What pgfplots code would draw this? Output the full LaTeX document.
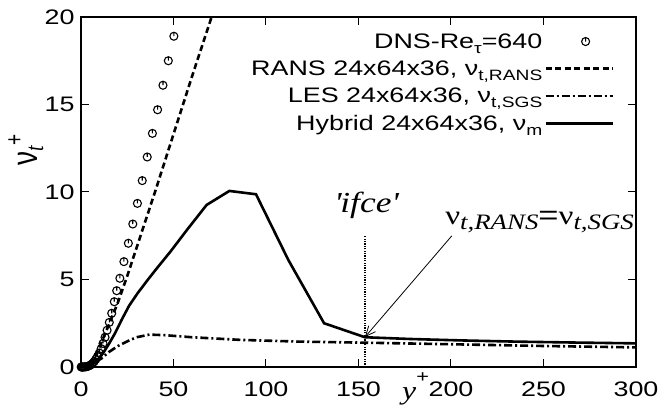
\documentclass[border=0pt]{standalone}
\usepackage{fontspec}
\setmainfont{Liberation Sans}[FakeStretch=1.28]
\newfontfamily\tnr{Liberation Serif}[FakeStretch=1.22]
\newfontfamily\arial{Liberation Sans}[FakeStretch=1.28]
\newfontfamily\arialN{Liberation Sans}
\newfontfamily\tnrN{Liberation Serif}
\usepackage{pgfplots}
\pgfplotsset{compat=1.18}
\usetikzlibrary{arrows.meta}
\pgfdeclareplotmark{circtick}{%
  \pgfpathcircle{\pgfpointorigin}{\pgfplotmarksize}%
  \pgfpathmoveto{\pgfpointorigin}%
  \pgfpathlineto{\pgfqpoint{0pt}{\pgfplotmarksize}}%
  \pgfusepathqstroke}
\newcommand{\lsub}[1]{\raisebox{-5pt}{\fontsize{15}{15}\selectfont #1}}
\pgfplotsset{
  marklegend/.style={legend image code/.code={\draw[##1] plot coordinates {(40pt,0pt)};}},
  linelegend/.style={legend image code/.code={\draw[##1] (0pt,0pt) -- (67pt,0pt);}},
}

\begin{document}
\begin{tikzpicture}
\path[use as bounding box] (-81pt,-44pt) rectangle (581pt,367pt);
\begin{axis}[
  at={(0,0)}, anchor=south west, scale only axis,
  width=555pt, height=350pt,
  xmin=0, xmax=300, ymin=0, ymax=20,
  xtick={0,50,...,300}, ytick={0,5,...,20},
  clip=false,
  axis line style={line width=1.2pt},
  major tick style={line width=1pt, black},
  major tick length=8pt,
  tick align=inside,
  ticklabel style={font=\fontsize{21}{24}\selectfont},
  xticklabel style={yshift=-11pt},
  yticklabel style={xshift=-3pt},
  /pgf/number format/assume math mode=true,
  legend plot pos=right,
  legend cell align=right,
  legend style={draw=none, fill=none, at={(rel axis cs:0.966,0.965)}, anchor=north east,
    font=\fontsize{21}{24}\selectfont, row sep=7pt,
    /tikz/every even column/.style={column sep=8pt}},
  linelegend,
]
\addplot[only marks, mark=circtick, mark size=4pt, line width=1.1pt, marklegend]
coordinates {
(0.1,0)(0.35,0)(0.65,0)(1.0,0.001)(1.4,0.002)(1.85,0.004)(2.35,0.009)(2.9,0.017)
(3.5,0.03)(4.1,0.055)(4.8,0.09)(5.5,0.14)(6.3,0.21)(7.1,0.31)(8.0,0.44)(8.9,0.6)
(9.9,0.8)(10.9,1.05)(11.9,1.35)(13.0,1.7)(14.1,2.1)(15.3,2.55)(16.6,3.07)(18.0,3.73)
(19.3,4.36)(21.0,5.07)(23.2,6.02)(25.6,7.07)(28.0,8.17)(30.5,9.35)(33.1,10.65)
(35.8,12.0)(38.6,13.35)(41.4,14.7)(44.3,16.1)(47.2,17.5)(50.2,18.9)
};
\addlegendentry{DNS-Re\lsub{τ}=640}
\addplot[line width=2.6pt, dash pattern=on 6pt off 3.5pt]
coordinates {
(0,0)(2,0.02)(4,0.12)(6,0.35)(8,0.7)(10,1.15)(12,1.65)(15,2.4)(20,3.7)(25,5.2)
(30,6.8)(40,10.0)(50,13.3)(60,16.6)(70.6,20)
};
\addlegendentry{RANS 24x64x36, ν\lsub{t,RANS}}
\addplot[line width=2.6pt, dash pattern=on 8pt off 3pt on 2pt off 3pt]
coordinates {
(0,0)(3,0.03)(6,0.15)(9,0.35)(11.2,0.5)(15,0.85)(20,1.2)(24.7,1.45)(30,1.7)
(37,1.85)(45,1.82)(60,1.7)(86,1.55)(118,1.45)(153,1.39)(200,1.3)(250,1.2)(300,1.12)
};
\addlegendentry{LES 24x64x36, ν\lsub{t,SGS}}
\addplot[line width=2.6pt]
coordinates {
(0,0)(3,0.03)(6,0.18)(9,0.42)(12,0.8)(15,1.3)(18.5,1.95)(22,2.7)(26,3.5)(30.5,4.2)
(35.5,4.9)(40.7,5.6)(48.4,6.6)(57.4,7.85)(67.9,9.26)(80.2,10.06)(94.6,9.87)
(112.1,6.11)(131.4,2.5)(153.5,1.7)(178,1.6)(205,1.52)(235,1.45)(265,1.4)(300,1.35)
};
\addlegendentry{Hybrid 24x64x36, ν\lsub{m}}
\addplot[forget plot, line width=2.4pt, dash pattern=on 1.2pt off 1.2pt]
coordinates {(153.5,0)(153.5,7.49)};
\draw[-{Straight Barb[length=10pt,width=9pt]}, line width=0.8pt]
  (axis cs:200.4,7.49) -- (axis cs:153.5,1.71);
\node[anchor=base, font=\tnr\itshape\fontsize{29}{29}\selectfont]
  at (axis cs:154,8.8) {\textquotesingle ifce\textquotesingle};
\node[anchor=base west, inner sep=0pt] at (axis cs:196.8,8.17)
  {\tnr\fontsize{27}{27}\selectfont ν\raisebox{-5pt}{\fontsize{22}{22}\selectfont\itshape t,RANS}{\arial=}ν\raisebox{-5pt}{\fontsize{22}{22}\selectfont\itshape t,SGS}};
\node[rotate=90, anchor=center] at (axis cs:-29.8,12.4)
  {\scalebox{1}[1.3]{{\arialN\fontsize{28}{28}\selectfont ν}\raisebox{-4.6pt}{\fontsize{20}{20}\selectfont\tnrN\itshape t}\raisebox{11pt}{\arialN\fontsize{19}{19}\selectfont +}}};
\node[anchor=base west, inner sep=0pt] at (axis cs:173.5,-1.886)
  {\tnr\itshape\fontsize{26}{26}\selectfont y\raisebox{17pt}{\arial\upshape\fontsize{17}{17}\selectfont +}};
\end{axis}
\end{tikzpicture}
\end{document}
